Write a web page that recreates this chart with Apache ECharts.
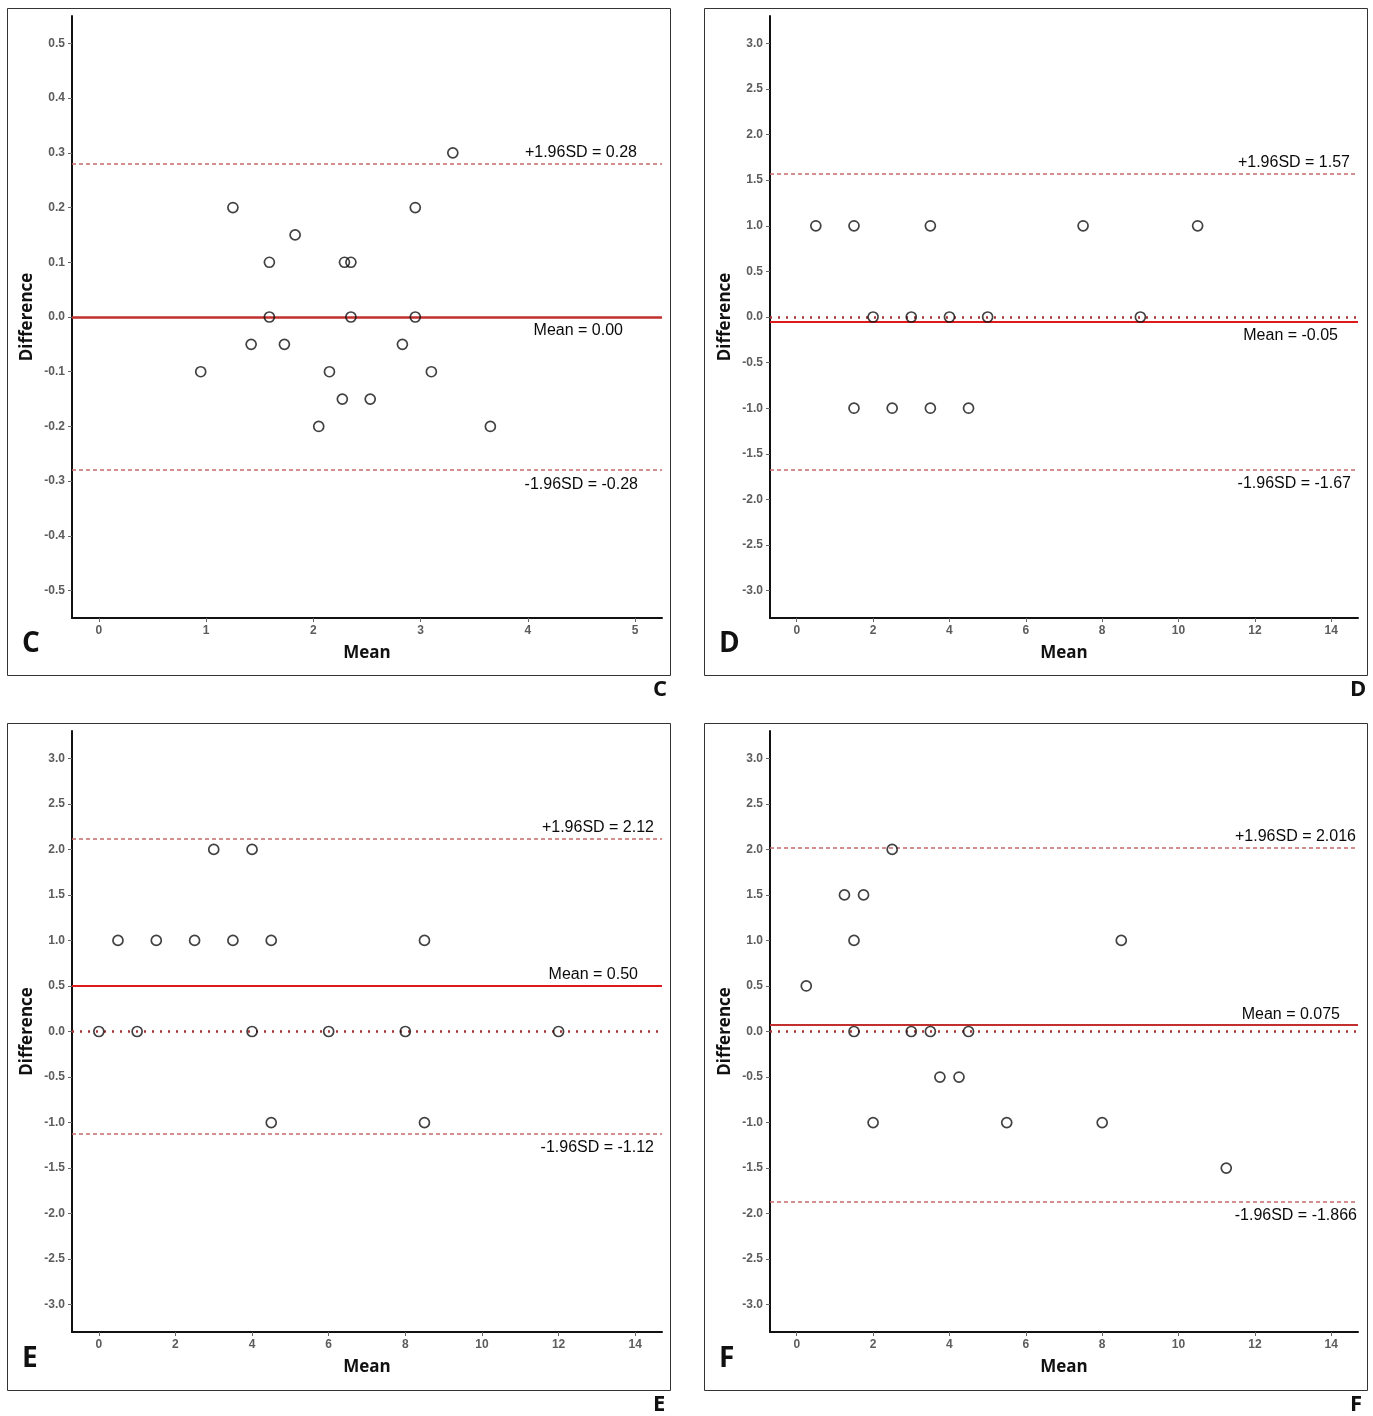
<!DOCTYPE html>
<html><head><meta charset="utf-8">
<script src="https://cdn.jsdelivr.net/npm/echarts@6/dist/echarts.min.js"></script>
<style>html,body{margin:0;padding:0;background:#fff}#main{width:1373px;height:1416px}</style>
</head><body><div id="main"></div>
<script>
// ---------- Panel C ----------
const cMean = [0.95, 1.25, 1.42, 1.59, 1.59, 1.73, 1.83, 2.05, 2.15, 2.27, 2.29, 2.35, 2.35, 2.53, 2.83, 2.95, 2.95, 3.10, 3.30, 3.65];
const cDiff = [-0.1, 0.2, -0.05, 0.1, 0.0, -0.05, 0.15, -0.2, -0.1, -0.15, 0.1, 0.1, 0.0, -0.15, -0.05, 0.2, 0.0, -0.1, 0.3, -0.2];
const cLimits = [0.28, 0.00, -0.28];
const cLimitLabels = ['+1.96SD = 0.28', 'Mean = 0.00', '-1.96SD = -0.28'];
const cXTicks = [0, 1, 2, 3, 4, 5];
const cYTicks = [-0.5, -0.4, -0.3, -0.2, -0.1, 0.0, 0.1, 0.2, 0.3, 0.4, 0.5];

// ---------- Panel D ----------
const dMean = [0.5, 1.5, 3.5, 7.5, 10.5, 2.0, 3.0, 4.0, 5.0, 9.0, 1.5, 2.5, 3.5, 4.5];
const dDiff = [1, 1, 1, 1, 1, 0, 0, 0, 0, 0, -1, -1, -1, -1];
const dLimits = [1.57, -0.05, -1.67];
const dLimitLabels = ['+1.96SD = 1.57', 'Mean = -0.05', '-1.96SD = -1.67'];

// ---------- Panel E ----------
const eMean = [0, 0.5, 1.0, 1.5, 2.5, 3.0, 3.5, 4.0, 4.0, 4.5, 4.5, 6.0, 8.0, 8.5, 8.5, 12.0];
const eDiff = [0, 1, 0, 1, 1, 2, 1, 2, 0, 1, -1, 0, 0, 1, -1, 0];
const eLimits = [2.12, 0.50, -1.12];
const eLimitLabels = ['+1.96SD = 2.12', 'Mean = 0.50', '-1.96SD = -1.12'];

// ---------- Panel F ----------
const fMean = [0.25, 1.25, 1.75, 1.5, 1.5, 2.0, 2.5, 3.0, 3.5, 3.75, 4.25, 4.5, 5.5, 8.0, 8.5, 11.25];
const fDiff = [0.5, 1.5, 1.5, 1.0, 0.0, -1.0, 2.0, 0.0, 0.0, -0.5, -0.5, 0.0, -1.0, -1.0, 1.0, -1.5];
const fLimits = [2.016, 0.075, -1.866];
const fLimitLabels = ['+1.96SD = 2.016', 'Mean = 0.075', '-1.96SD = -1.866'];

// shared ticks for D/E/F
const wideXTicks = [0, 2, 4, 6, 8, 10, 12, 14];
const wideYTicks = [-3.0, -2.5, -2.0, -1.5, -1.0, -0.5, 0.0, 0.5, 1.0, 1.5, 2.0, 2.5, 3.0];
const panelLetters = ['C', 'D', 'E', 'F'];

// ---------- layout (styles only) ----------
const panels = [
  {mean: cMean, diff: cDiff, lim: cLimits, lab: cLimitLabels, xt: cXTicks, yt: cYTicks,
   grid: {left: 72, top: 16, width: 590, height: 602}, box: [7, 8, 663, 667],
   zero: false, meanAbove: false, meanColor: '#c1302f', meanWidth: 2.5,
   dist: [[25, 3], [39, 6], [24, 6]]},
  {mean: dMean, diff: dDiff, lim: dLimits, lab: dLimitLabels, xt: wideXTicks, yt: wideYTicks,
   grid: {left: 770, top: 16, width: 588, height: 602}, box: [704, 8, 663, 667],
   zero: true, meanAbove: false, meanColor: '#e0191b', meanWidth: 2,
   dist: [[8, 3], [20, 6], [7, 6]]},
  {mean: eMean, diff: eDiff, lim: eLimits, lab: eLimitLabels, xt: wideXTicks, yt: wideYTicks,
   grid: {left: 72, top: 731, width: 590, height: 601}, box: [7, 723, 663, 667],
   zero: true, meanAbove: true, meanColor: '#e0191b', meanWidth: 2,
   dist: [[8, 3], [24, 3], [8, 6]]},
  {mean: fMean, diff: fDiff, lim: fLimits, lab: fLimitLabels, xt: wideXTicks, yt: wideYTicks,
   grid: {left: 770, top: 731, width: 588, height: 601}, box: [704, 723, 663, 667],
   zero: true, meanAbove: true, meanColor: '#c1302f', meanWidth: 2,
   dist: [[2, 3], [18, 3], [1, 6]]}
];

function expand(arr) {
  const lo = Math.min(...arr), hi = Math.max(...arr), pad = (hi - lo) * 0.05;
  return [lo - pad, hi + pad];
}

const grids = [], xAxes = [], yAxes = [], series = [], graphics = [];
const tickFont = {color: '#5c5c5c', fontSize: 12, fontWeight: 'bold', fontFamily: 'Liberation Sans, Arial, sans-serif'};
const annoFont = {color: '#0a0a0a', fontSize: 16, fontFamily: 'Liberation Sans, Arial, sans-serif'};
const nameFont = {fontSize: 17, fontWeight: 'bold', color: '#111', fontFamily: 'Open Sans, sans-serif'};

panels.forEach((p, i) => {
  grids.push(Object.assign({containLabel: false}, p.grid));
  const xr = expand(p.xt), yr = expand(p.yt);
  xAxes.push({
    type: 'value', gridIndex: i, min: xr[0], max: xr[1],
    name: 'Mean', nameLocation: 'middle', nameGap: 27,
    nameTextStyle: nameFont,
    axisLine: {show: true, onZero: false, lineStyle: {color: '#111', width: 2}},
    axisTick: {show: true, customValues: p.xt, length: 4, lineStyle: {color: '#666'}},
    axisLabel: Object.assign({customValues: p.xt, margin: 7, formatter: v => String(v)}, tickFont),
    splitLine: {show: false}
  });
  yAxes.push({
    type: 'value', gridIndex: i, min: yr[0], max: yr[1],
    name: 'Difference', nameLocation: 'middle', nameGap: 36, nameRotate: 90,
    nameTextStyle: nameFont,
    axisLine: {show: true, onZero: false, lineStyle: {color: '#111', width: 2}},
    axisTick: {show: true, customValues: p.yt, length: 4, lineStyle: {color: '#666'}},
    axisLabel: Object.assign({customValues: p.yt, margin: 7, formatter: v => v.toFixed(1)}, tickFont),
    splitLine: {show: false}
  });

  const mlData = [
    {yAxis: p.lim[0], lineStyle: {color: '#c76a6a', width: 1.5, type: [4, 3]},
     label: Object.assign({show: true, position: 'insideEndTop', formatter: p.lab[0], distance: p.dist[0]}, annoFont)},
    {yAxis: p.lim[1], lineStyle: {color: p.meanColor, width: p.meanWidth, type: 'solid'},
     label: Object.assign({show: true, position: p.meanAbove ? 'insideEndTop' : 'insideEndBottom', formatter: p.lab[1], distance: p.dist[1]}, annoFont)},
    {yAxis: p.lim[2], lineStyle: {color: '#c76a6a', width: 1.5, type: [4, 3]},
     label: Object.assign({show: true, position: 'insideEndBottom', formatter: p.lab[2], distance: p.dist[2]}, annoFont)}
  ];
  if (p.zero) {
    mlData.unshift({yAxis: 0, lineStyle: {color: '#a83232', width: 2.5, type: [2, 6]}, label: {show: false}});
  }

  series.push({
    type: 'scatter', xAxisIndex: i, yAxisIndex: i,
    data: p.mean.map((m, k) => [m, p.diff[k]]),
    symbol: 'circle', symbolSize: 10,
    itemStyle: {color: 'rgba(0,0,0,0)', borderColor: '#111', borderWidth: 1.7},
    z: 5,
    markLine: {silent: true, symbol: 'none', animation: false, data: mlData, z: 3}
  });

  const b = p.box;
  graphics.push({type: 'rect', shape: {x: b[0] + 0.5, y: b[1] + 0.5, width: b[2], height: b[3]},
    style: {fill: 'none', stroke: '#333', lineWidth: 1}, silent: true});
  graphics.push({type: 'text', left: b[0] + 15, top: b[1] + 622,
    style: {text: panelLetters[i], fontSize: 28, fontWeight: 'bold', fill: '#111', fontFamily: 'Open Sans, sans-serif'}});
  graphics.push({type: 'text', left: b[0] + b[2] - 17, top: b[1] + b[3] + 4,
    style: {text: panelLetters[i], fontSize: 22, fontWeight: 'bold', fill: '#111', fontFamily: 'Open Sans, sans-serif'}});
});

const chart = echarts.init(document.getElementById('main'), null, {renderer: 'canvas'});
chart.setOption({
  animation: false,
  backgroundColor: '#fff',
  grid: grids, xAxis: xAxes, yAxis: yAxes, series: series,
  graphic: graphics
});
</script>
</body></html>
